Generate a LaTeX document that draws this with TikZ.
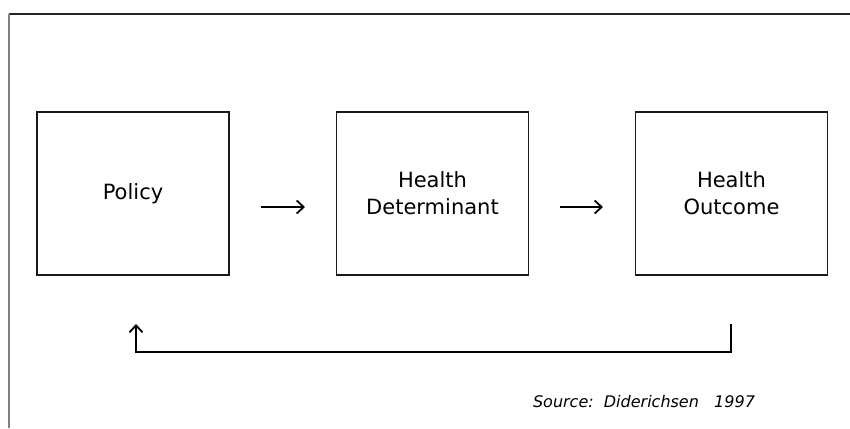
\documentclass[tikz,border=0pt]{standalone}
\usepackage{fontspec}
\setmainfont{DejaVu Sans}
\usetikzlibrary{arrows.meta}
\begin{document}
\begin{tikzpicture}[x=1bp,y=-1bp,
  box/.style={draw=black!90, line width=1.1bp, minimum width=192bp, minimum height=163bp,
    inner sep=0pt, align=center, font=\fontsize{21bp}{27bp}\selectfont},
  flow/.style={line width=1.5bp, -{Straight Barb[length=7bp,width=13bp,line width=1.8bp]}},
  frame/.style={line width=1.6bp}]
\useasboundingbox (0,0) rectangle (850,428);
\draw[frame, draw=black!85] (9,14) coordinate (ftl) -- (850,14) coordinate (ftr);
\draw[frame, draw=black!50] (ftl) -- (9,428) coordinate (fbl);
\node[box] (policy) at (133,193.5) {Policy};
\node[box] (det) at (432.5,193.5) {Health\\Determinant};
\node[box] (out) at (731.5,193.5) {Health\\Outcome};
\coordinate (a1s) at (261,207);
\coordinate (a1e) at (305,207);
\coordinate (a2s) at (560,207);
\coordinate (a2e) at (603,207);
\draw[flow] (a1s) -- (a1e);
\draw[flow] (a2s) -- (a2e);
\coordinate (fbs) at (731,324);
\coordinate (fbe) at (136,324);
\draw[flow] (fbs) -- (731,352) -- (136,352) -- (fbe);
\node[font=\itshape\fontsize{16bp}{20bp}\selectfont, anchor=base] (src) at (644,407)
  {Source:\ \ Diderichsen\ \ \ 1997};
\end{tikzpicture}
\end{document}
